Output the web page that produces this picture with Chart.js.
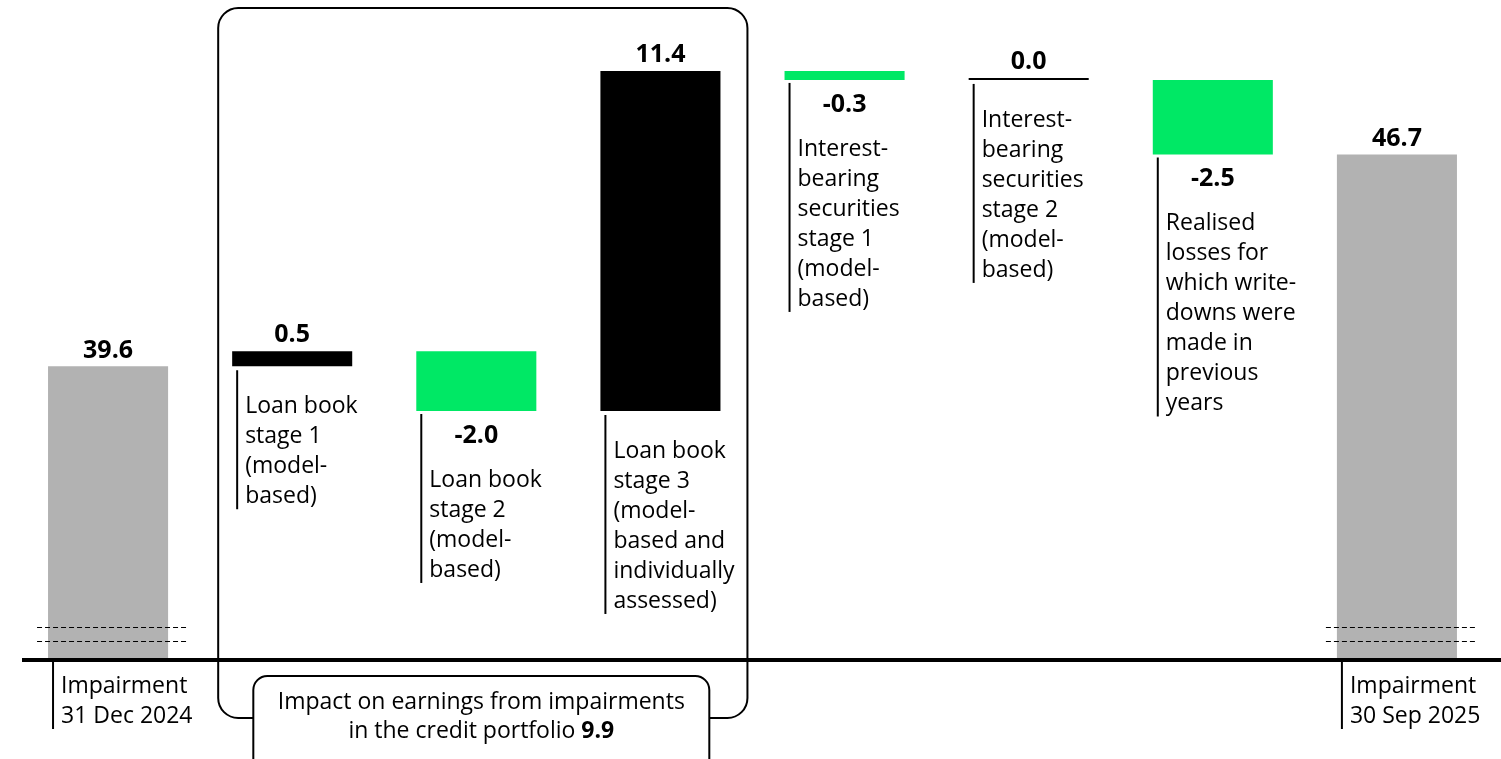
<!DOCTYPE html>
<html>
<head>
<meta charset="utf-8">
<script src="https://cdn.jsdelivr.net/npm/chart.js@4.4.1/dist/chart.umd.min.js"></script>
<style>
  html, body { margin: 0; padding: 0; background: #fff; }
  #wrap { width: 1501px; height: 759px; position: relative; }
</style>
</head>
<body>
<div id="wrap"><canvas id="waterfall"></canvas></div>
<script>
// values (EUR m)
const categories = [
    ['Impairment', '31 Dec 2024'],
    ['Loan book', 'stage 1', '(model-', 'based)'],
    ['Loan book', 'stage 2', '(model-', 'based)'],
    ['Loan book', 'stage 3', '(model-', 'based and', 'individually', 'assessed)'],
    ['Interest-', 'bearing', 'securities', 'stage 1', '(model-', 'based)'],
    ['Interest-', 'bearing', 'securities', 'stage 2', '(model-', 'based)'],
    ['Realised', 'losses for', 'which write-', 'downs were', 'made in', 'previous', 'years'],
    ['Impairment', '30 Sep 2025']
];
const openingValue = 39.6;
const changes = [0.5, -2.0, 11.4, -0.3, 0.0, -2.5];
const closingValue = 46.7;
const earningsImpact = 9.9;
const impactText = ['Impact on earnings from impairments', 'in the credit portfolio '];

// broken axis: bars start well above zero
const axisMin = 29.75;
const axisMax = 51.88;

const GREY = '#b2b2b2';
const GREEN = '#00e865';
const BLACK = '#000000';

// build floating bars for the waterfall
const bars = [[axisMin, openingValue]];
const labelsOut = [openingValue];
const kinds = ['total'];
let running = openingValue;
changes.forEach(c => {
    const next = Math.round((running + c) * 10) / 10;
    bars.push([running, next]);
    labelsOut.push(c);
    kinds.push(c < 0 ? 'down' : 'up');
    running = next;
});
bars.push([axisMin, closingValue]);
labelsOut.push(closingValue);
kinds.push('total');

const colours = kinds.map(k => k === 'total' ? GREY : (k === 'down' ? GREEN : BLACK));

const LABEL_FONT = '23px "Open Sans"';
const VALUE_FONT = 'bold 25px "Open Sans"';
const LINE_H = 30;

const waterfallText = {
    id: 'waterfallText',
    afterDatasetsDraw(chart) {
        const ctx = chart.ctx;
        const meta = chart.getDatasetMeta(0);
        const area = chart.chartArea;
        const axisY = area.bottom;
        ctx.save();
        ctx.fillStyle = BLACK;
        ctx.strokeStyle = BLACK;

        meta.data.forEach((bar, i) => {
            const p = bar.getProps(['x', 'y', 'base', 'width'], true);
            const left = p.x - p.width / 2;
            const right = p.x + p.width / 2;
            const top = Math.min(p.y, p.base);
            const bottom = Math.max(p.y, p.base);
            const kind = kinds[i];
            const lines = categories[i];
            let valueY, firstY, lineTop;

            if (kind === 'total') {
                valueY = top - 8;
                firstY = axisY + 33;
                lineTop = axisY;
                // axis-break marks
                ctx.save();
                ctx.lineWidth = 1.2;
                ctx.setLineDash([5, 3]);
                [axisY - 33, axisY - 19].forEach(y => {
                    ctx.beginPath();
                    ctx.moveTo(left - 11, y + 0.5);
                    ctx.lineTo(right + 18, y + 0.5);
                    ctx.stroke();
                });
                ctx.restore();
            } else if (kind === 'up') {
                valueY = top - 9;
                firstY = bottom + 47;
                lineTop = bottom + 4;
            } else {
                valueY = bottom + 32;
                firstY = valueY + 44;
                lineTop = bottom + 3;
            }

            // value
            ctx.font = VALUE_FONT;
            ctx.textAlign = 'center';
            ctx.textBaseline = 'alphabetic';
            ctx.fillText(labelsOut[i].toFixed(1), p.x, valueY);

            // category text
            ctx.font = LABEL_FONT;
            ctx.textAlign = 'left';
            lines.forEach((t, k) => ctx.fillText(t, left + 13, firstY + k * LINE_H));

            // connector
            const lastY = firstY + (lines.length - 1) * LINE_H;
            ctx.lineWidth = 2;
            ctx.beginPath();
            ctx.moveTo(left + 5, lineTop);
            ctx.lineTo(left + 5, lastY + 6);
            ctx.stroke();
        });

        // baseline
        ctx.lineWidth = 4;
        ctx.beginPath();
        ctx.moveTo(22, axisY);
        ctx.lineTo(chart.width, axisY);
        ctx.stroke();

        // bracket round the credit-portfolio bars
        const xs = chart.scales.x;
        const bL = xs.getPixelForValue(1) - 74;
        const bR = xs.getPixelForValue(3) + 87;
        const bT = 8, bB = axisY + 58, r = 20;
        const cx = xs.getPixelForValue(2) + 5;
        const boxW = 456, boxT = axisY + 16;
        ctx.lineWidth = 2;
        ctx.beginPath();
        ctx.moveTo(cx - boxW / 2, bB);
        ctx.arcTo(bL, bB, bL, bB - r, r);
        ctx.arcTo(bL, bT, bL + r, bT, r);
        ctx.arcTo(bR, bT, bR, bT + r, r);
        ctx.arcTo(bR, bB, bR - r, bB, r);
        ctx.lineTo(cx + boxW / 2, bB);
        ctx.stroke();

        ctx.fillStyle = '#fff';
        ctx.beginPath();
        ctx.roundRect(cx - boxW / 2, boxT, boxW, 110, 14);
        ctx.fill();
        ctx.stroke();

        ctx.fillStyle = BLACK;
        ctx.font = LABEL_FONT;
        ctx.textAlign = 'center';
        ctx.fillText(impactText[0], cx, boxT + 33);
        const w1 = ctx.measureText(impactText[1]).width;
        ctx.font = 'bold 23px "Open Sans"';
        const num = earningsImpact.toFixed(1);
        const w2 = ctx.measureText(num).width;
        const sx = cx - (w1 + w2) / 2;
        ctx.textAlign = 'left';
        ctx.font = LABEL_FONT;
        ctx.fillText(impactText[1], sx, boxT + 62);
        ctx.font = 'bold 23px "Open Sans"';
        ctx.fillText(num, sx + w1, boxT + 62);

        ctx.restore();
    }
};

new Chart(document.getElementById('waterfall').getContext('2d'), {
    type: 'bar',
    data: {
        labels: categories.map(c => c.join(' ')),
        datasets: [{
            data: bars,
            backgroundColor: colours,
            borderWidth: 0,
            minBarLength: 2,
            barPercentage: 0.652,
            categoryPercentage: 1
        }]
    },
    options: {
        responsive: true,
        maintainAspectRatio: false,
        animation: false,
        layout: { padding: { left: 16, right: 12, top: 0, bottom: 99 } },
        plugins: { legend: { display: false }, tooltip: { enabled: false } },
        scales: {
            x: { display: false, grid: { display: false } },
            y: { display: false, min: axisMin, max: axisMax, grid: { display: false } }
        }
    },
    plugins: [waterfallText]
});
</script>
</body>
</html>
